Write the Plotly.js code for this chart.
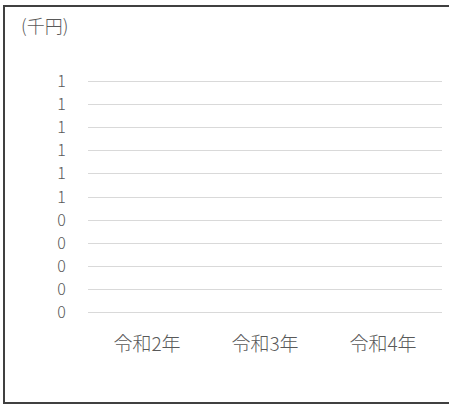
<!DOCTYPE html>
<html>
<head>
<meta charset="utf-8">
<script src="https://cdn.plot.ly/plotly-3.0.1.min.js"></script>
<style>
html,body{margin:0;padding:0;background:#fff;overflow:hidden;}
#wrap{position:relative;width:449px;height:405px;overflow:hidden;}
#frame{position:absolute;left:3px;top:5px;width:446px;height:399px;border-left:2px solid #404040;border-top:2px solid #404040;border-bottom:2px solid #404040;box-sizing:border-box;pointer-events:none;z-index:5;}
#chart{position:absolute;left:0;top:0;width:449px;height:405px;}
</style>
</head>
<body>
<div id="wrap"><div id="chart"></div><div id="frame"></div></div>
<script>
const categories = ['令和2年', '令和3年', '令和4年'];
const values = [null, null, null];
const yTickValues = [0, 0.1, 0.2, 0.3, 0.4, 0.5, 0.6, 0.7, 0.8, 0.9, 1.0];
const yTickLabels = ['0', '0', '0', '0', '0', '1', '1', '1', '1', '1', '1'];
const unitLabel = '(千円)';

const fontFamily = '"Noto Sans CJK JP", "Noto Sans", sans-serif';
const textColor = '#595959';

Plotly.newPlot('chart', [{
  type: 'bar',
  x: categories,
  y: values,
  marker: {color: '#4472c4'},
  hoverinfo: 'skip'
}], {
  width: 449,
  height: 405,
  margin: {l: 88, r: 7, t: 79, b: 90, pad: 0},
  paper_bgcolor: '#ffffff',
  plot_bgcolor: '#ffffff',
  showlegend: false,
  font: {family: fontFamily, size: 16, color: textColor, weight: 300},
  title: {
    text: unitLabel,
    xref: 'container', yref: 'container',
    x: 21 / 449, xanchor: 'left',
    y: 1 - 27 / 405, yanchor: 'middle',
    font: {family: fontFamily, size: 18, color: textColor, weight: 300}
  },
  xaxis: {
    type: 'category',
    showgrid: false,
    showline: false,
    zeroline: false,
    ticks: 'outside',
    ticklen: 12,
    tickcolor: 'rgba(0,0,0,0)',
    tickfont: {family: fontFamily, size: 19, color: textColor, weight: 300},
    fixedrange: true
  },
  yaxis: {
    range: [-0.01, 1.01],
    tickmode: 'array',
    tickvals: yTickValues,
    ticktext: yTickLabels,
    showgrid: true,
    gridcolor: '#d9d9d9',
    gridwidth: 1,
    zeroline: false,
    showline: false,
    ticks: 'outside',
    ticklen: 18,
    tickcolor: 'rgba(0,0,0,0)',
    tickfont: {family: fontFamily, size: 16, color: textColor, weight: 300},
    fixedrange: true
  }
}, {staticPlot: true, displayModeBar: false});
</script>
</body>
</html>
